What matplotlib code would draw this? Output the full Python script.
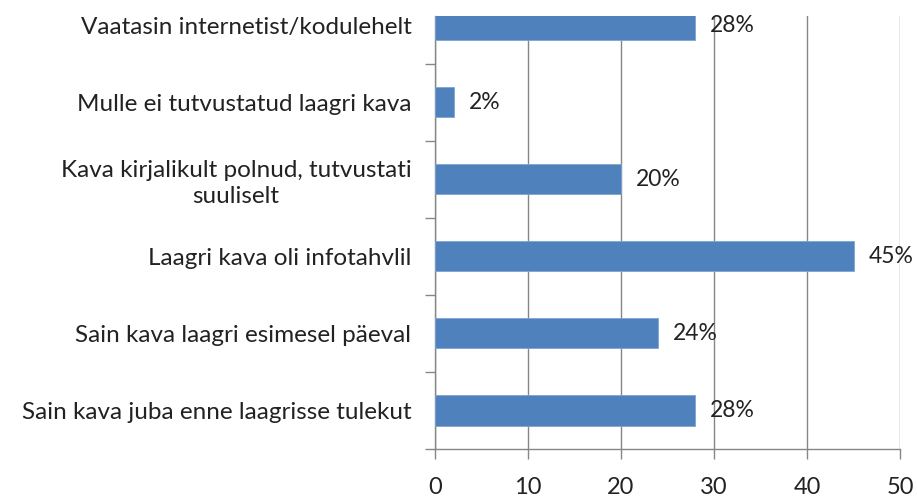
import matplotlib
matplotlib.use("Agg")
import matplotlib.pyplot as plt

categories = [
    "Sain kava juba enne laagrisse tulekut",
    "Sain kava laagri esimesel päeval",
    "Laagri kava oli infotahvlil",
    "Kava kirjalikult polnud, tutvustati\nsuuliselt",
    "Mulle ei tutvustatud laagri kava",
    "Vaatasin internetist/kodulehelt",
]
values = [28, 24, 45, 20, 2, 28]
value_labels = ["28%", "24%", "45%", "20%", "2%", "28%"]
xticks = [0, 10, 20, 30, 40, 50]

plt.rcParams['font.family'] = ['Lato', 'DejaVu Sans']

W, H = 917, 500
fig = plt.figure(figsize=(W / 100, H / 100), dpi=100)
ax = fig.add_axes([435 / W, (H - 449) / H, (900 - 435) / W, 433 / H])

y = list(range(len(categories)))
ax.barh(y, values, height=0.39, color="#4F81BD", edgecolor="#7FA3D3", linewidth=0.6, zorder=3)

ax.set_xticks(xticks)
ax.set_xticklabels([str(t) for t in xticks], fontsize=17, color="#222222")
ax.tick_params(axis='x', length=7, color="#868686", pad=13, width=1)

ax.set_yticks([i - 0.5 for i in range(len(categories))])
ax.set_yticklabels([])
ax.set_yticks(y, minor=True)
ax.set_yticklabels(categories, minor=True, fontsize=17.5, color="#222222",
                   ha='right', multialignment='center', linespacing=1.25)
ax.tick_params(axis='y', which='major', length=7, color="#868686", width=1)
ax.tick_params(axis='y', which='minor', length=0, pad=17)

ax.set_xlim(0, 50)
ax.set_ylim(-0.5, 5.12)

ax.xaxis.grid(True, color="#868686", linewidth=1, zorder=0)
ax.set_axisbelow(True)
for s in ['top', 'right']:
    ax.spines[s].set_visible(False)
for s in ['left', 'bottom']:
    ax.spines[s].set_color("#868686")
    ax.spines[s].set_linewidth(1)

for yi, v, t in zip(y, values, value_labels):
    ax.text(v + 1.6, yi, t, va='center', ha='left', fontsize=16.5, color="#222222", zorder=4)

fig.savefig("out.png", dpi=100, facecolor="white")
